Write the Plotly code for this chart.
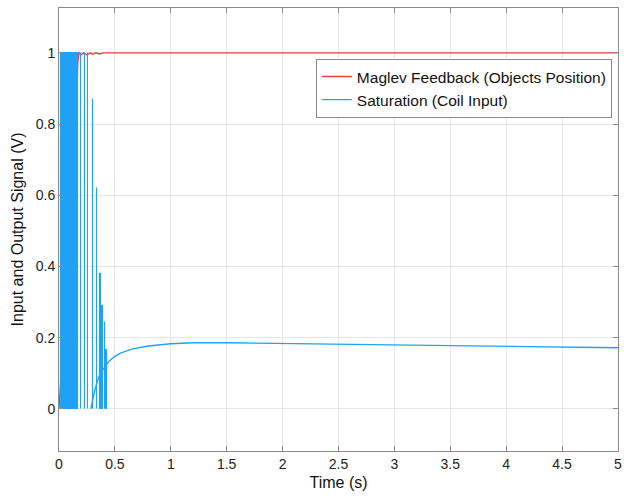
import plotly.graph_objects as go

# Maglev Feedback (object position) - red
feedback_t = [0.0, 0.005, 0.03, 0.06, 0.10, 0.135, 0.142, 0.147, 0.152, 0.16, 0.168, 0.178,
              0.20, 0.22, 0.25, 0.28, 0.30, 0.33, 0.36, 0.40, 0.5, 1.0, 5.0]
feedback_v = [0.0, 0.03, 0.15, 0.30, 0.45, 0.58, 0.68, 0.60, 0.78, 0.90, 0.97, 1.0,
              0.995, 1.0, 0.994, 1.0, 0.996, 1.0, 0.997, 1.0, 1.0, 1.0, 1.0]

# Saturation (coil input) switching pulses: start time, end time, peak
# (the first entry is the unresolved fast-switching block at the start)
pulse_start = [0.016, 0.146, 0.163,
               0.196, 0.234, 0.261, 0.305, 0.341, 0.371, 0.389, 0.409, 0.424]
pulse_end   = [0.141, 0.149, 0.166,
               0.198, 0.236, 0.263, 0.307, 0.343, 0.373, 0.391, 0.411, 0.426]
pulse_peak  = [1.0, 1.0, 1.0,
               1.0, 1.0, 1.0, 0.87, 0.62, 0.38, 0.29, 0.245, 0.165]

# Saturation smooth part after switching
coil_t = [0.285, 0.30, 0.32, 0.35, 0.38, 0.41, 0.45, 0.50, 0.55, 0.65, 0.80, 1.0, 1.2,
          1.5, 2.0, 2.5, 3.0, 3.5, 4.0, 4.5, 5.0]
coil_v = [0.0, 0.025, 0.053, 0.085, 0.105, 0.118, 0.135, 0.148, 0.157, 0.168, 0.177, 0.183,
          0.186, 0.186, 0.184, 0.182, 0.180, 0.178, 0.176, 0.174, 0.172]

x_ticks = [0, 0.5, 1, 1.5, 2, 2.5, 3, 3.5, 4, 4.5, 5]
x_tick_labels = ["0", "0.5", "1", "1.5", "2", "2.5", "3", "3.5", "4", "4.5", "5"]
y_ticks = [0, 0.2, 0.4, 0.6, 0.8, 1]
y_tick_labels = ["0", "0.2", "0.4", "0.6", "0.8", "1"]

RED = "#EE4045"
BLUE = "#1FA2F5"

X_RANGE = [0, 5.0005]
Y_RANGE = [-0.118, 1.126]

pulse_center = [(s + e) / 2 for s, e in zip(pulse_start, pulse_end)]
pulse_width = [e - s for s, e in zip(pulse_start, pulse_end)]

fig = go.Figure()
fig.add_trace(go.Scatter(x=feedback_t, y=feedback_v, mode="lines", line=dict(color=RED, width=1.4),
                         name="Maglev Feedback (Objects Position)"))
fig.add_trace(go.Scatter(x=coil_t, y=coil_v, mode="lines", line=dict(color=BLUE, width=1.4),
                         name="Saturation (Coil Input)", legendgroup="sat"))
# switching pulses drawn on an overlay subplot so they sit above the red trace
fig.add_trace(go.Bar(x=pulse_center, y=pulse_peak, width=pulse_width, base=0,
                     marker=dict(color=BLUE, line=dict(color=BLUE, width=1.1)),
                     xaxis="x2", yaxis="y2", showlegend=False, legendgroup="sat",
                     name="Saturation (Coil Input)"))

font = "Liberation Sans, Arial, sans-serif"
axis_common = dict(showline=True, linecolor="#8a8a8a", linewidth=1, mirror="ticks",
                   ticks="inside", ticklen=5, tickcolor="#8a8a8a",
                   showgrid=True, gridcolor="#e6e6e6", gridwidth=1, zeroline=False,
                   ticklabeloverflow="allow",
                   tickfont=dict(family=font, size=14, color="#222"))

fig.update_layout(
    width=626, height=500,
    margin=dict(l=59, r=4, t=8, b=49),
    paper_bgcolor="white", plot_bgcolor="white",
    font=dict(family=font, color="#222"),
    showlegend=True,
    bargap=0,
    legend=dict(x=0.989, y=0.885, xanchor="right", yanchor="top",
                bgcolor="white", bordercolor="#8a8a8a", borderwidth=1,
                font=dict(family=font, size=15.5, color="#111"),
                tracegroupgap=0),
    xaxis=dict(range=X_RANGE, tickvals=x_ticks, ticktext=x_tick_labels,
               title=dict(text="Time (s)", font=dict(family=font, size=16, color="#111"), standoff=6),
               **axis_common),
    yaxis=dict(range=Y_RANGE, tickvals=y_ticks, ticktext=y_tick_labels,
               title=dict(text="Input and Output Signal (V)", font=dict(family=font, size=16, color="#111"), standoff=8),
               **axis_common),
    xaxis2=dict(range=X_RANGE, overlaying="x", visible=False, showgrid=False, zeroline=False),
    yaxis2=dict(range=Y_RANGE, overlaying="y", visible=False, showgrid=False, zeroline=False),
)

fig.write_html("out.html")
